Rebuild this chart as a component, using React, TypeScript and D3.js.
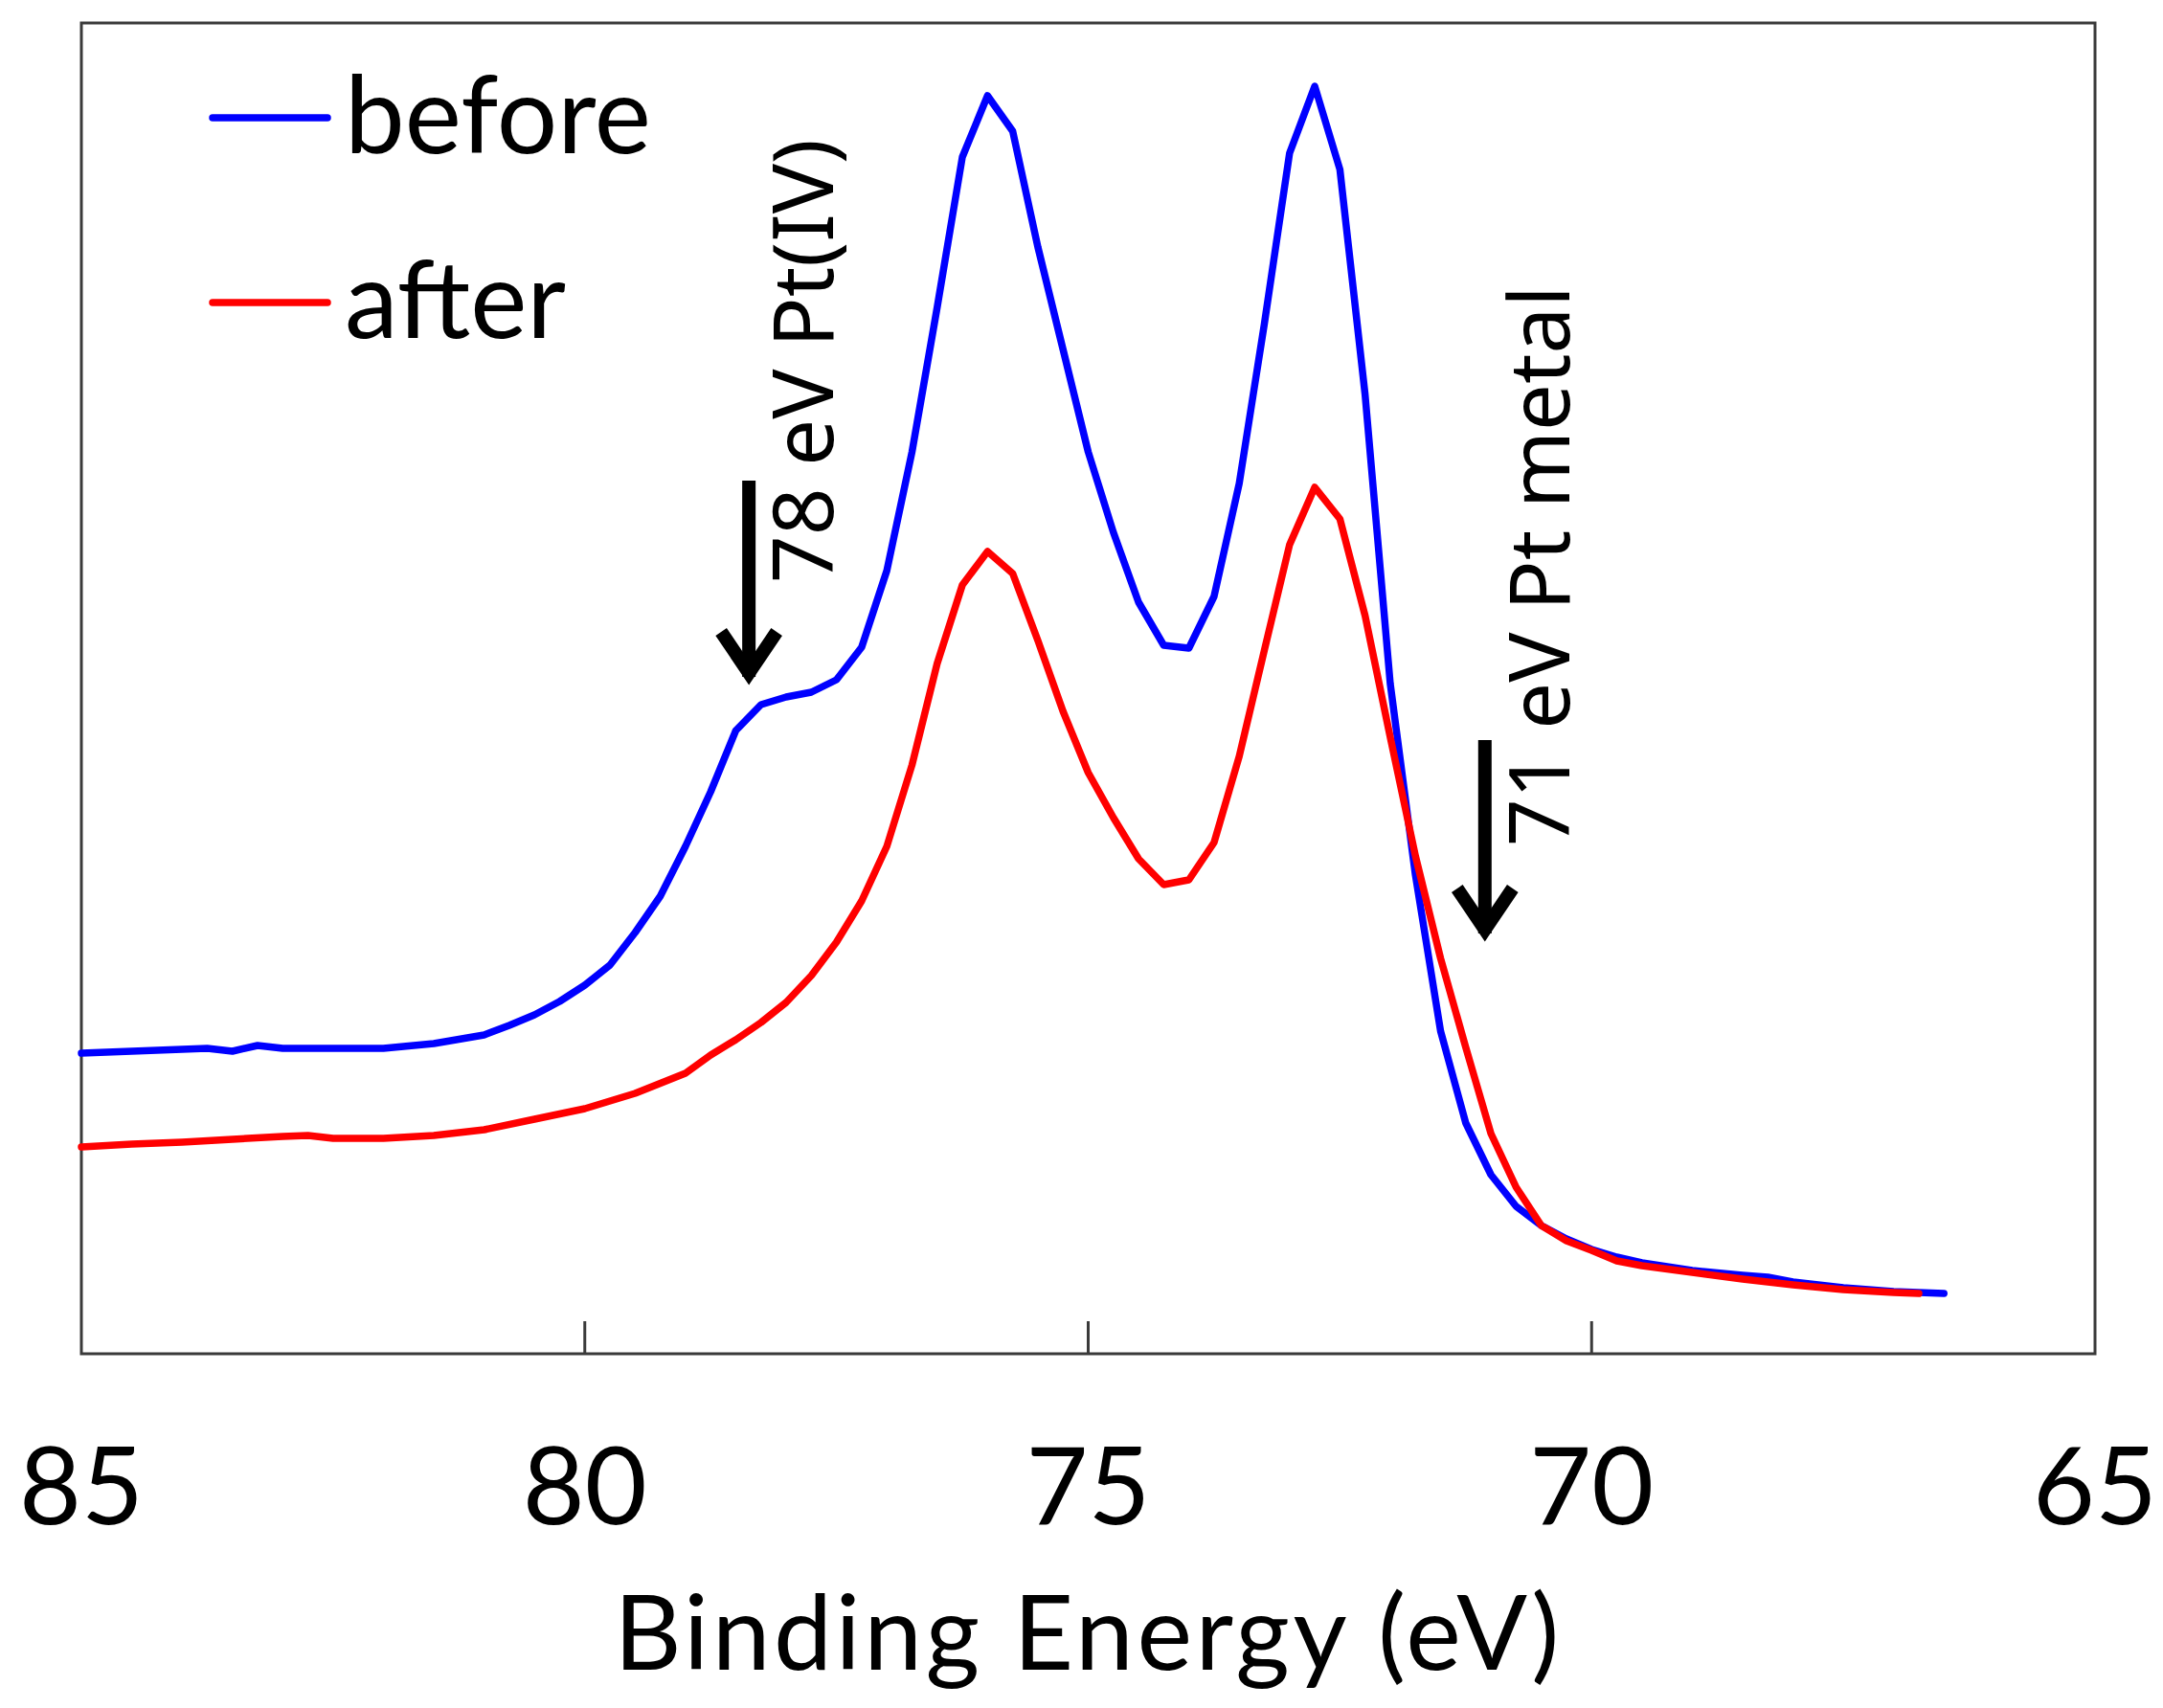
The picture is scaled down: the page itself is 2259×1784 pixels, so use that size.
import React, { useEffect } from "react";
import * as d3 from "d3";

// Binding energy (eV) and intensity (a.u.)
const beforeEnergy = [85.0, 84.5, 84.0, 83.75, 83.5, 83.25, 83.0, 82.5, 82.0, 81.5, 81.0, 80.75, 80.5, 80.25, 80.0, 79.75, 79.5, 79.25, 79.0, 78.75, 78.5, 78.25, 78.0, 77.75, 77.5, 77.25, 77.0, 76.75, 76.5, 76.25, 76.0, 75.75, 75.5, 75.25, 75.0, 74.75, 74.5, 74.25, 74.0, 73.75, 73.5, 73.25, 73.0, 72.75, 72.5, 72.25, 72.0, 71.75, 71.5, 71.25, 71.0, 70.75, 70.5, 70.25, 70.0, 69.75, 69.5, 69.0, 68.5, 68.25, 68.0, 67.5, 67.0, 66.5];
const beforeIntensity = [314, 316, 318, 319, 316, 322, 319, 319, 319, 324, 333, 343, 354, 368, 385, 406, 440, 478, 530, 587, 651, 678, 686, 691, 704, 738, 818, 942, 1093, 1250, 1314, 1277, 1156, 1049, 942, 858, 785, 740, 737, 791, 909, 1076, 1254, 1324, 1237, 1002, 700, 500, 337, 241, 187, 154, 134, 120, 109, 101, 95, 87, 82, 80, 75, 69, 65, 63];

const afterEnergy = [85.0, 84.5, 84.0, 83.5, 83.0, 82.75, 82.5, 82.0, 81.5, 81.0, 80.5, 80.0, 79.5, 79.0, 78.75, 78.5, 78.25, 78.0, 77.75, 77.5, 77.25, 77.0, 76.75, 76.5, 76.25, 76.0, 75.75, 75.5, 75.25, 75.0, 74.75, 74.5, 74.25, 74.0, 73.75, 73.5, 73.25, 73.0, 72.75, 72.5, 72.25, 72.0, 71.75, 71.5, 71.25, 71.0, 70.75, 70.5, 70.25, 70.0, 69.75, 69.5, 69.0, 68.5, 68.0, 67.5, 67.0, 66.75];
const afterIntensity = [216, 219, 221, 224, 227, 228, 225, 225, 228, 234, 245, 256, 272, 293, 312, 328, 346, 367, 395, 430, 473, 530, 615, 721, 803, 838, 815, 745, 671, 607, 560, 517, 490, 495, 534, 624, 735, 845, 905, 872, 771, 644, 520, 413, 320, 230, 174, 134, 118, 108, 97, 92, 85, 78, 72, 67, 64, 63];

const xTicks = [85, 80, 75, 70, 65];
const seriesNames = ["before", "after"];
const seriesColors = ["#0000FF", "#FF0000"];

// annotations: energy, arrow top intensity, arrow tip intensity, label
const annotEnergy = [78.37, 71.06];
const annotTop = [912, 641];
const annotTip = [701, 433];
const annotLabels = ["78 eV Pt(IV)", "71 eV Pt metal"];

const W = 2259;
const H = 1784;
const L = 85, R = 2188, T = 24, B = 1414;

export default function App() {
  useEffect(() => {
    document.body.style.margin = "0";
  }, []);

  const x = d3.scaleLinear().domain([85, 65]).range([L, R]);
  const y = d3.scaleLinear().domain([0, 1390]).range([B, T]);

  const line = d3
    .line<[number, number]>()
    .x((d) => x(d[0]))
    .y((d) => y(d[1]));

  const beforePts = beforeEnergy.map((e, i) => [e, beforeIntensity[i]] as [number, number]);
  const afterPts = afterEnergy.map((e, i) => [e, afterIntensity[i]] as [number, number]);
  const series = [beforePts, afterPts];

  const legendY = [123, 316];

  return (
    <svg
      width={W}
      height={H}
      style={{ position: "absolute", left: 0, top: 0, display: "block", background: "#fff" }}
    >
      <rect x={0} y={0} width={W} height={H} fill="#fff" />
      {/* frame */}
      <rect x={L} y={T} width={R - L} height={B - T} fill="none" stroke="#3a3a3a" strokeWidth={3} />
      {/* inward ticks */}
      {xTicks.slice(1, -1).map((t) => (
        <line key={t} x1={x(t)} x2={x(t)} y1={B} y2={B - 34} stroke="#3a3a3a" strokeWidth={3} />
      ))}
      {/* tick labels */}
      {xTicks.map((t) => (
        <text
          key={"l" + t}
          x={x(t)}
          y={1592}
          textAnchor="middle"
          fontFamily="Lato, 'Noto Sans', sans-serif"
          fontSize={112}
          fill="#000"
        >
          {t}
        </text>
      ))}
      <text
        x={(L + R) / 2}
        y={1744}
        textAnchor="middle"
        fontFamily="Lato, 'Noto Sans', sans-serif"
        fontSize={109}
        letterSpacing={3.5}
        fill="#000"
      >
        Binding Energy (eV)
      </text>

      {/* curves */}
      {series.map((pts, i) => (
        <path
          key={seriesNames[i]}
          d={line(pts) || ""}
          fill="none"
          stroke={seriesColors[i]}
          strokeWidth={7.5}
          strokeLinejoin="round"
          strokeLinecap="round"
        />
      ))}

      {/* legend */}
      {seriesNames.map((n, i) => (
        <g key={"leg" + n}>
          <line x1={222} x2={342} y1={legendY[i]} y2={legendY[i]} stroke={seriesColors[i]} strokeWidth={7.5} strokeLinecap="round" />
          <text
            x={360}
            y={legendY[i] + 37}
            fontFamily="Lato, 'Noto Sans', sans-serif"
            fontSize={112}
            fill="#000"
          >
            {n}
          </text>
        </g>
      ))}

      {/* annotations */}
      {annotLabels.map((lab, i) => {
        const ax = x(annotEnergy[i]);
        const yTop = y(annotTop[i]);
        const yTip = y(annotTip[i]);
        return (
          <g key={"an" + i}>
            <line x1={ax} x2={ax} y1={yTop} y2={yTip - 6} stroke="#000" strokeWidth={14} />
            <polyline
              points={`${ax - 29},${yTip - 53} ${ax},${yTip - 10} ${ax + 29},${yTip - 53}`}
              fill="none"
              stroke="#000"
              strokeWidth={14}
              strokeLinejoin="miter"
              strokeMiterlimit={10}
            />
            <text
              transform={`translate(${ax + 88},${yTop + (i === 0 ? 107 : 111)}) rotate(-90)`}
              fontFamily="'Noto Sans', 'DejaVu Sans', sans-serif"
              fontSize={87}
              fill="#000"
            >
              {lab}
            </text>
          </g>
        );
      })}
    </svg>
  );
}
